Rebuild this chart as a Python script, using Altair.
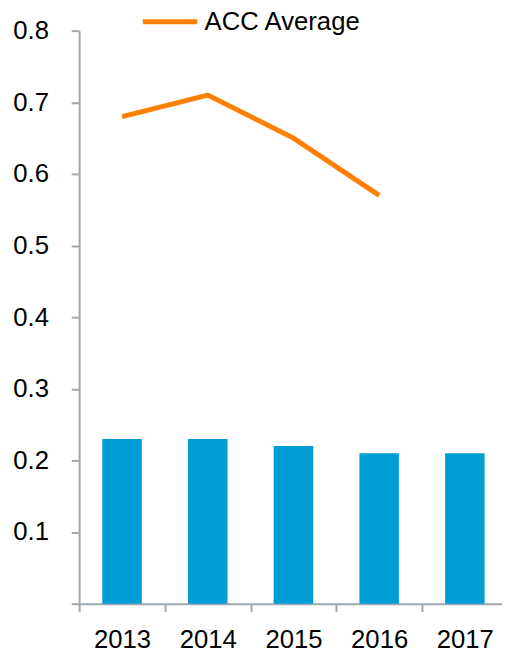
import altair as alt
import pandas as pd

years = ["2013", "2014", "2015", "2016", "2017"]
bar_values = [0.23, 0.23, 0.22, 0.21, 0.21]
acc_average = [0.68, 0.71, 0.65, 0.57, None]
series_name = "ACC Average"

bars_df = pd.DataFrame({"year": years, "value": bar_values})
line_df = pd.DataFrame({"year": years[:4], "acc": acc_average[:4], "series": [series_name] * 4})

axis_color = "#9DA8B2"
W = 428
P_IN = 0.539
P_OUT = 0.2365
step = W / (5 - P_IN + 2 * P_OUT)

x_scale = alt.Scale(domain=years, paddingInner=P_IN, paddingOuter=P_OUT, align=0.571)
y_scale = alt.Scale(domain=[0, 0.8], nice=False)

y_axis = alt.Axis(
    values=[0, 0.1, 0.2, 0.3, 0.4, 0.5, 0.6, 0.7, 0.8],
    labelExpr="datum.value == 0 ? '' : format(datum.value, '.1f')",
    title=None, grid=False, domainColor=axis_color, tickColor=axis_color,
    domainWidth=2, tickWidth=2, tickSize=8, labelPadding=23,
    labelFontSize=26, labelFont="Liberation Sans", labelColor="#000000",
)
x_axis = alt.Axis(
    title=None, labelAngle=0, tickOffset=-step / 2, labelOffset=step / 2,
    domainColor=axis_color,
    tickColor=axis_color, domainWidth=2, tickWidth=2, tickSize=8,
    labelPadding=15, labelFontSize=26, labelFont="Liberation Sans",
    labelColor="#000000",
)

bars = alt.Chart(bars_df).mark_bar(color="#009CD6").encode(
    x=alt.X("year:N", scale=x_scale, axis=x_axis, sort=years),
    y=alt.Y("value:Q", scale=y_scale, axis=y_axis),
)

line = alt.Chart(line_df).mark_line(strokeWidth=5).encode(
    x=alt.X("year:N", scale=x_scale, sort=years),
    y=alt.Y("acc:Q", scale=y_scale),
    color=alt.Color(
        "series:N",
        scale=alt.Scale(domain=[series_name], range=["#FF7F00"]),
        legend=alt.Legend(
            title=None, orient="none", legendX=62, legendY=-39,
            symbolType="stroke", symbolStrokeWidth=5, symbolSize=3025,
            labelFontSize=26, labelFont="Liberation Sans", labelColor="#000000",
            labelOffset=5,
        ),
    ),
)

chart = alt.layer(bars, line).properties(
    width=W, height=580,
    autosize=alt.AutoSizeParams(type="none"),
    padding={"left": 72, "top": 19, "right": 0, "bottom": 46},
).configure_view(stroke=None)

chart.save("out.html", embed_options={"renderer": "svg", "actions": False})
